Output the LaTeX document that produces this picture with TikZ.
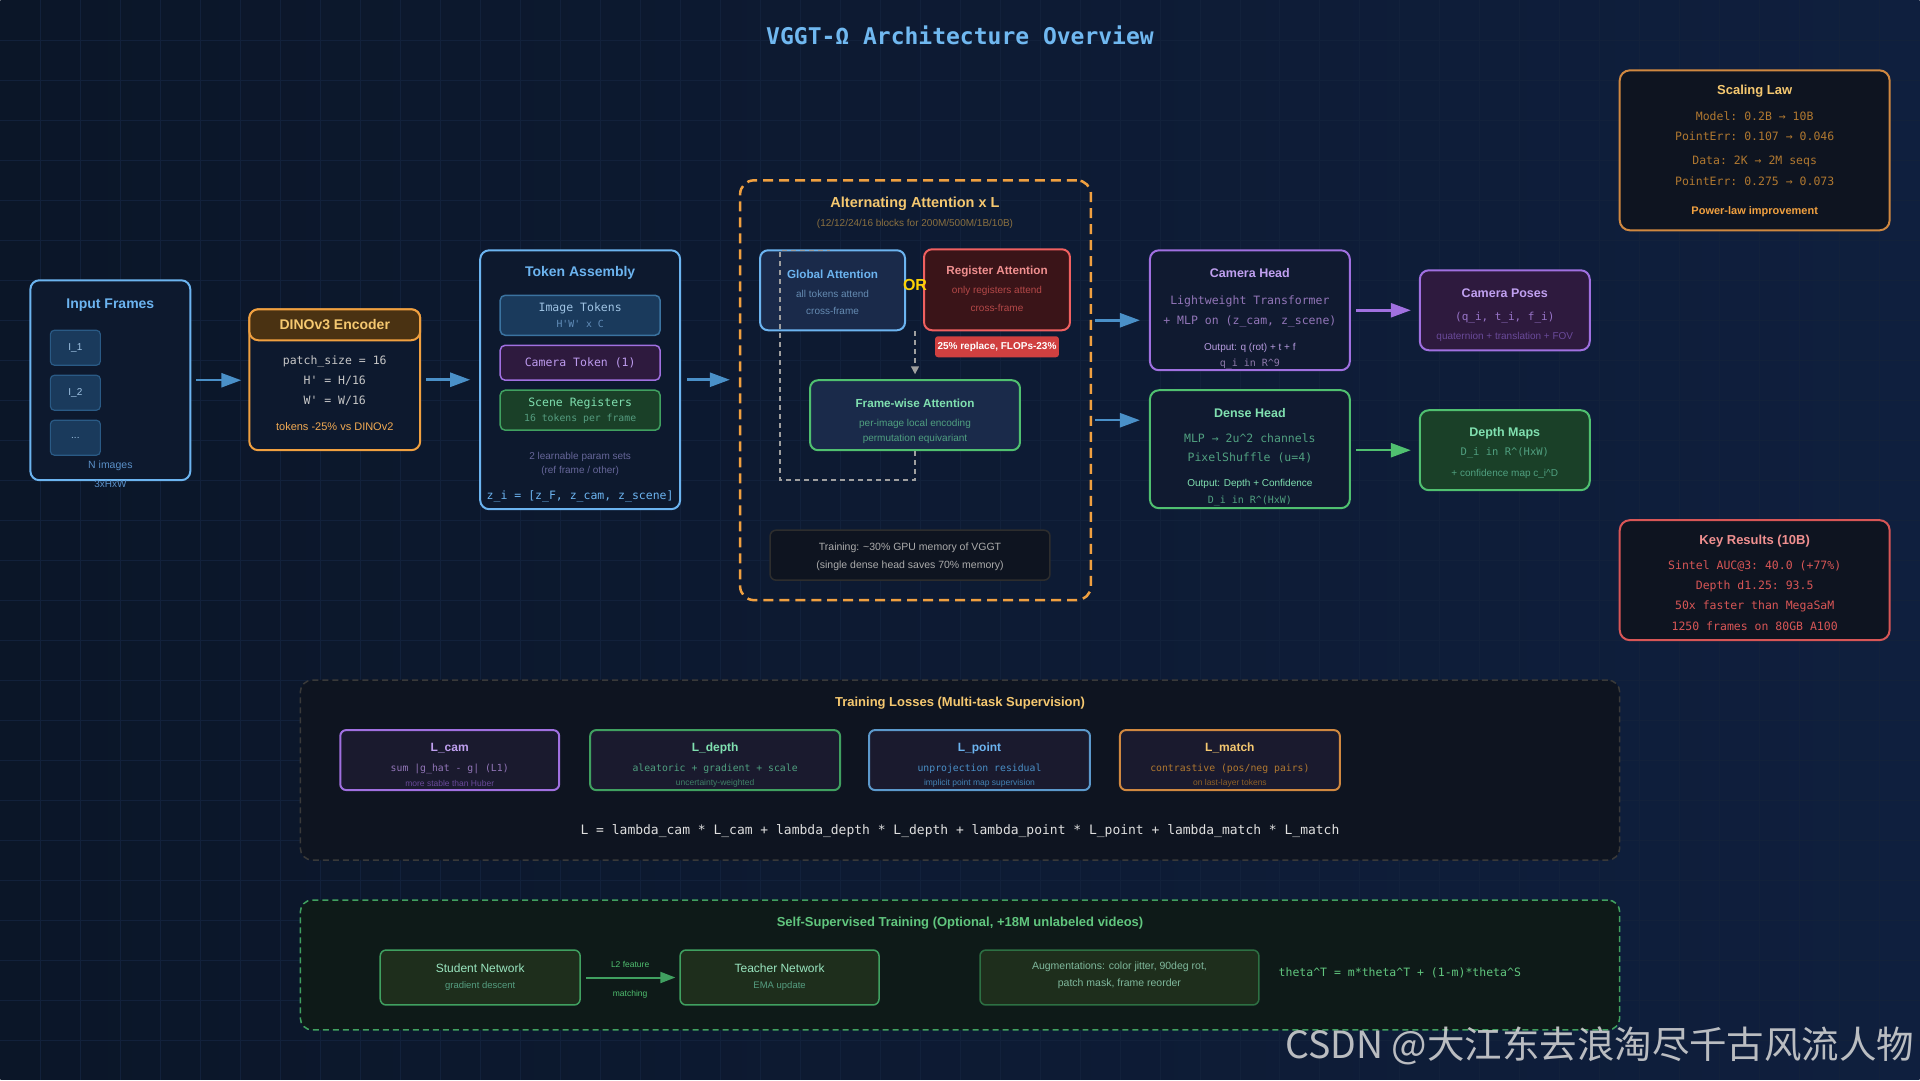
\documentclass[tikz,border=0pt]{standalone}
\usepackage{fontspec}
\setmainfont{Liberation Sans}
\setmonofont{DejaVu Sans Mono}
\newfontfamily\cjkfont{Noto Sans CJK SC}
\usetikzlibrary{arrows.meta,calc}

\newcommand{\fsz}[1]{\fontsize{#1}{#1}\selectfont}
\newcommand{\crt}{\textasciicircum}

\definecolor{bgleft}{HTML}{0B1628}
\definecolor{bgright}{HTML}{0F1F3E}
\definecolor{gridln}{HTML}{12213B}
\definecolor{boxbg}{HTML}{0D192E}
\definecolor{headbg}{HTML}{101A30}
\definecolor{panelbg}{HTML}{0E1420}
\definecolor{titleb}{HTML}{70B8F0}
\definecolor{skyb}{HTML}{6CB4F0}
\definecolor{arrb}{HTML}{4A90C8}
\definecolor{frmfill}{HTML}{1A3A5C}
\definecolor{frmedge}{HTML}{2A5A85}
\definecolor{frmtxt}{HTML}{A0C4E4}
\definecolor{nimg}{HTML}{5A90C8}
\definecolor{orng}{HTML}{F0A040}
\definecolor{gold}{HTML}{F5C870}
\definecolor{brownhd}{HTML}{4A3212}
\definecolor{dimgold}{HTML}{8A7040}
\definecolor{copper}{HTML}{D08840}
\definecolor{rust}{HTML}{B07830}
\definecolor{purp}{HTML}{A070E0}
\definecolor{lilac}{HTML}{C0A0F0}
\definecolor{plum}{HTML}{2E1A3E}
\definecolor{dimplum}{HTML}{6A4A9A}
\definecolor{grn}{HTML}{50C070}
\definecolor{mint}{HTML}{80E0B0}
\definecolor{sage}{HTML}{50A080}
\definecolor{forest}{HTML}{1A4028}
\definecolor{redb}{HTML}{F06060}
\definecolor{pinkt}{HTML}{F09090}
\definecolor{maroon}{HTML}{3A1418}
\definecolor{badgered}{HTML}{D04040}
\definecolor{attnbg}{HTML}{1A2A4A}
\definecolor{lossbg}{HTML}{1A1A2E}
\definecolor{sslbg}{HTML}{0E1A18}
\definecolor{sslbox}{HTML}{1E2E1C}
\definecolor{sslgrn}{HTML}{40A060}

\begin{document}
\begin{tikzpicture}[
  x=1pt, y=-1pt,
  font=\fsz{11},
  box/.style={draw, line width=2pt, rounded corners=9pt, inner sep=0pt},
  sub/.style={draw, line width=1.5pt, rounded corners=5pt, inner sep=0pt},
  txt/.style={inner sep=0pt},
  hd/.style={txt, font=\bfseries\fsz{#1}},
  mono/.style={txt, font=\ttfamily\fsz{#1}},
  sans/.style={txt, font=\fsz{#1}},
  arr/.style={-{Triangle[length=20pt,width=14pt]}, line width=2.5pt},
  gdash/.style={draw=gray!75, line width=1.5pt, dash pattern=on 5pt off 4pt},
]
% ---- background + grid ----
\shade[left color=bgleft, right color=bgright] (0,0) rectangle (1920,1080);
\foreach \gx in {40,80,...,1880} \draw[gridln, line width=0.8pt] (\gx,0) -- (\gx,1080);
\foreach \gy in {40,80,...,1040} \draw[gridln, line width=0.8pt] (0,\gy) -- (1920,\gy);
\useasboundingbox (0,0) rectangle (1920,1080);

\node[txt, font=\ttfamily\bfseries\fsz{23}, text=titleb] (title) at (960,35) {VGGT-Ω Architecture Overview};

% ---- input frames ----
\node[box, draw=skyb, fill=boxbg, minimum width=160pt, minimum height=200pt] (inframes) at (110,380) {};
\node[hd=14, text=skyb] (inT) at (110,305) {Input Frames};
\node[sub, line width=1.2pt, rounded corners=4pt, draw=frmedge, fill=frmfill, minimum width=50pt, minimum height=35pt, text=frmtxt, font=\fsz{10}] (img1) at (75,347.5) {I\_1};
\node[sub, line width=1.2pt, rounded corners=4pt, draw=frmedge, fill=frmfill, minimum width=50pt, minimum height=35pt, text=frmtxt, font=\fsz{10}] (img2) at (75,392.5) {I\_2};
\node[sub, line width=1.2pt, rounded corners=4pt, draw=frmedge, fill=frmfill, minimum width=50pt, minimum height=35pt, text=frmtxt, font=\fsz{10}] (img3) at (75,437.5) {...};
\node[sans=10.5, text=nimg] (nimgs) at (110,466) {N images};
\node[sans=10, text=nimg] (shape) at (110,484) {3xHxW};

% ---- DINOv3 encoder ----
\node[box, draw=orng, fill=boxbg, minimum width=171pt, minimum height=141pt] (dino) at (334.5,379.5) {};
\node[box, draw=orng, fill=brownhd, minimum width=171pt, minimum height=31pt] (dinohd) at (334.5,324.5) {};
\node[hd=14, text=gold] (dinoT) at (334.5,324.5) {DINOv3 Encoder};
\node[mono=11.5, text=gray!45] (patch) at (334.5,361) {patch\_size = 16};
\node[mono=11.5, text=gray!45] (hdim) at (334.5,381) {H' = H/16};
\node[mono=11.5, text=gray!45] (wdim) at (334.5,401) {W' = W/16};
\node[sans=11, text=orng!90!white] (tokcut) at (334.5,426) {tokens -25\% vs DINOv2};

% ---- token assembly ----
\node[box, draw=skyb, fill=boxbg, minimum width=200pt, minimum height=259pt] (tokasm) at (580,379.5) {};
\node[hd=14, text=skyb] (tokT) at (580,273) {Token Assembly};
\node[sub, draw=arrb!80!black, fill=frmfill, minimum width=160pt, minimum height=40pt] (imgtok) at (580,315) {};
\node[mono=11.5, text=frmtxt] (imgtokA) at (580,308) {Image Tokens};
\node[mono=9.8, text=nimg!80!gray] (imgtokB) at (580,324) {H'W' x C};
\node[sub, draw=purp, fill=plum, minimum width=160pt, minimum height=35pt] (camtok) at (580,362.5) {};
\node[mono=11.5, text=lilac!90!purp] (camtokA) at (580,363) {Camera Token (1)};
\node[sub, draw=sslgrn, fill=forest, minimum width=160pt, minimum height=40pt] (scnreg) at (580,410) {};
\node[mono=11.5, text=mint] (scnregA) at (580,403) {Scene Registers};
\node[mono=9.8, text=sage!90!gray] (scnregB) at (580,419) {16 tokens per frame};
\node[sans=10, text=gray!80!blue] (params) at (580,457) {2 learnable param sets};
\node[sans=10, text=gray!80!blue] (paramsB) at (580,471) {(ref frame / other)};
\node[mono=11.5, text=skyb] (zi) at (580,496) {z\_i = [z\_F, z\_cam, z\_scene]};

% ---- alternating attention block ----
\node[draw=orng, line width=2.5pt, dash pattern=on 10pt off 6pt, rounded corners=14pt, minimum width=351pt, minimum height=420pt, inner sep=0pt] (altatt) at (915.5,390) {};
\node[hd=14.5, text=gold] (altT) at (915,203) {Alternating Attention x L};
\node[sans=10, text=dimgold] (altS) at (915,224) {(12/12/24/16 blocks for 200M/500M/1B/10B)};

\draw[arr, arrb, shorten <=5pt, shorten >=7pt] (inframes.east) -- (inframes.east -| dino.west);
\draw[arr, arrb, shorten <=5pt, shorten >=9pt] (dino.east) -- (dino.east -| tokasm.west);
\draw[arr, arrb, shorten <=6pt, shorten >=9pt] (tokasm.east) -- (tokasm.east -| altatt.west);

\node[box, draw=skyb, fill=attnbg, rounded corners=8pt, minimum width=145pt, minimum height=80pt] (glob) at (832.5,290) {};
\node[hd=11.7, text=skyb] (globT) at (832.5,274) {Global Attention};
\node[sans=10, text=nimg!70!gray] (globA) at (832.5,294) {all tokens attend};
\node[sans=10, text=nimg!70!gray] (globB) at (832.5,311) {cross-frame};

\node[box, draw=redb, fill=maroon, rounded corners=8pt, minimum width=146pt, minimum height=81pt] (regatt) at (997,289.5) {};
\node[hd=11.7, text=pinkt] (regT) at (997,271) {Register Attention};
\node[sans=10, text=redb!75!black] (regA) at (997,291) {only registers attend};
\node[sans=10, text=redb!75!black] (regB) at (997,308) {cross-frame};
\node[hd=16, text=yellow!70!orange] (orsep) at (915,285) {OR};
\node[fill=badgered, rounded corners=3pt, minimum width=124pt, minimum height=21pt, inner sep=0pt, text=white, font=\bfseries\fsz{10}] (badge) at (997,346.5) {25\% replace, FLOPs-23\%};

\node[box, draw=grn, fill=attnbg, rounded corners=8pt, minimum width=210pt, minimum height=70pt] (frame) at (915,415) {};
\node[hd=11.7, text=mint] (frameT) at (915,403) {Frame-wise Attention};
\node[sans=10, text=sage] (frameA) at (915,424) {per-image local encoding};
\node[sans=10, text=sage] (frameB) at (915,439) {permutation equivariant};

\draw[gdash, -{Triangle[length=8pt,width=8pt]}, shorten >=5pt] (frame.north |- glob.south) -- (frame.north);
\coordinate (loopA) at (780,480);
\coordinate (loopB) at (830,250);
\draw[gdash] (frame.south) |- (loopA) |- (loopB);

\node[sub, draw=gray!35!black, fill=panelbg, rounded corners=6pt, minimum width=280pt, minimum height=50pt] (trnote) at (910,555) {};
\node[sans=10.5, text=gray!65] (trnoteA) at (910,548) {Training: \textasciitilde30\% GPU memory of VGGT};
\node[sans=10.5, text=gray!65] (trnoteB) at (910,566) {(single dense head saves 70\% memory)};

% ---- heads ----
\node[box, draw=purp, fill=headbg, minimum width=200pt, minimum height=120pt] (camhead) at (1250,310) {};
\node[hd=12.5, text=lilac] (camT) at (1250,273) {Camera Head};
\node[mono=11.5, text=purp!60!gray] (camA) at (1250,301) {Lightweight Transformer};
\node[mono=11.5, text=purp!60!gray] (camB) at (1250,321) {+ MLP on (z\_cam, z\_scene)};
\node[sans=10, text=lilac!85!gray] (camC) at (1250,348) {Output: q (rot) + t + f};
\node[mono=10, text=purp!45!gray] (camD) at (1250,364) {q\_i in R\crt9};

\node[box, draw=grn, fill=headbg, minimum width=200pt, minimum height=118pt] (densehead) at (1250,449) {};
\node[hd=12.5, text=mint] (denT) at (1250,413) {Dense Head};
\node[mono=11.5, text=sage] (denA) at (1250,438) {MLP → 2u\crt2 channels};
\node[mono=11.5, text=sage] (denB) at (1250,458) {PixelShuffle (u=4)};
\node[sans=10, text=mint] (denC) at (1250,484) {Output: Depth + Confidence};
\node[mono=10, text=sage] (denD) at (1250,501) {D\_i in R\crt(HxW)};

\draw[arr, arrb, shorten <=3pt, shorten >=9pt] ([yshift=70pt]altatt.east) -- ([yshift=70pt]altatt.east -| camhead.west);
\draw[arr, arrb, shorten <=3pt, shorten >=9pt] ([yshift=-30pt]altatt.east) -- ([yshift=-30pt]altatt.east -| densehead.west);

% ---- outputs ----
\node[box, draw=purp, fill=plum, minimum width=170pt, minimum height=80pt] (campose) at (1505,310) {};
\node[hd=12.5, text=lilac] (poseT) at (1505,293) {Camera Poses};
\node[mono=11, text=purp!75!gray] (poseA) at (1505,317) {(q\_i, t\_i, f\_i)};
\node[sans=10, text=dimplum] (poseB) at (1505,337) {quaternion + translation + FOV};

\node[box, draw=grn, fill=forest, minimum width=170pt, minimum height=80pt] (depthmap) at (1505,450) {};
\node[hd=12.5, text=mint] (depT) at (1505,433) {Depth Maps};
\node[mono=10.5, text=sage] (depA) at (1505,453) {D\_i in R\crt(HxW)};
\node[sans=10, text=sage] (depB) at (1505,474) {+ confidence map c\_i\crt D};

\draw[arr, purp, shorten <=5pt, shorten >=8pt] (camhead.east) -- (campose.west);
\draw[arr, grn, shorten <=5pt, shorten >=8pt] (densehead.east |- depthmap.west) -- (depthmap.west);

% ---- side panels ----
\node[box, draw=copper, fill=panelbg, rounded corners=10pt, minimum width=270pt, minimum height=160pt] (scalelaw) at (1755,150) {};
\node[hd=13, text=gold] (scaleT) at (1755,91) {Scaling Law};
\node[mono=11.5, text=rust] (scaleA) at (1755,116) {Model: 0.2B → 10B};
\node[mono=11.5, text=rust] (scaleB) at (1755,136) {PointErr: 0.107 → 0.046};
\node[mono=11.5, text=rust] (scaleC) at (1755,161) {Data: 2K → 2M seqs};
\node[mono=11.5, text=rust] (scaleD) at (1755,181) {PointErr: 0.275 → 0.073};
\node[hd=11, text=orng] (scaleE) at (1755,211) {Power-law improvement};

\node[box, draw=redb!90!black, fill=panelbg, rounded corners=10pt, minimum width=270pt, minimum height=120pt] (keyres) at (1755,580) {};
\node[hd=13, text=pinkt] (keyT) at (1755,541) {Key Results (10B)};
\node[mono=11.5, text=redb!90!black] (keyA) at (1755,566) {Sintel AUC@3: 40.0 (+77\%)};
\node[mono=11.5, text=redb!90!black] (keyB) at (1755,586) {Depth d1.25: 93.5};
\node[mono=11.5, text=redb!90!black] (keyC) at (1755,606) {50x faster than MegaSaM};
\node[mono=11.5, text=redb!90!black] (keyD) at (1755,626) {1250 frames on 80GB A100};

% ---- training losses ----
\node[draw=gray!45!black, fill=panelbg, line width=1.5pt, dash pattern=on 6pt off 4pt, rounded corners=12pt, minimum width=1320pt, minimum height=180pt, inner sep=0pt] (losspanel) at (960,770) {};
\node[hd=13, text=gold] (lossT) at (960,703) {Training Losses (Multi-task Supervision)};

\node[box, draw=purp, fill=lossbg, rounded corners=6pt, minimum width=219pt, minimum height=60pt] (lcam) at (449.5,760) {};
\node[hd=12, text=lilac] (lcamT) at (449.5,748) {L\_cam};
\node[mono=9.8, text=purp!60!gray] (lcamA) at (449.5,769) {sum |g\_hat - g| (L1)};
\node[sans=8.5, text=dimplum] (lcamB) at (449.5,783) {more stable than Huber};

\node[box, draw=sslgrn, fill=lossbg, rounded corners=6pt, minimum width=250pt, minimum height=60pt] (ldepth) at (715,760) {};
\node[hd=12, text=mint] (ldepT) at (715,748) {L\_depth};
\node[mono=9.8, text=sage] (ldepA) at (715,769) {aleatoric + gradient + scale};
\node[sans=8.5, text=sage!80!black] (ldepB) at (715,783) {uncertainty-weighted};

\node[box, draw=skyb!85!black, fill=lossbg, rounded corners=6pt, minimum width=221pt, minimum height=60pt] (lpoint) at (979.5,760) {};
\node[hd=12, text=skyb] (lptT) at (979.5,748) {L\_point};
\node[mono=9.8, text=arrb] (lptA) at (979.5,769) {unprojection residual};
\node[sans=8.5, text=arrb!90!black] (lptB) at (979.5,783) {implicit point map supervision};

\node[box, draw=copper, fill=lossbg, rounded corners=6pt, minimum width=220pt, minimum height=60pt] (lmatch) at (1230,760) {};
\node[hd=12, text=gold] (lmT) at (1230,748) {L\_match};
\node[mono=9.8, text=rust] (lmA) at (1230,769) {contrastive (pos/neg pairs)};
\node[sans=8.5, text=rust!80!black] (lmB) at (1230,783) {on last-layer tokens};

\node[mono=13, text=gray!25] (lossEq) at (960,831) {L = lambda\_cam * L\_cam + lambda\_depth * L\_depth + lambda\_point * L\_point + lambda\_match * L\_match};

% ---- self-supervised training ----
\node[draw=sslgrn, fill=sslbg, line width=1.5pt, dash pattern=on 6pt off 4pt, rounded corners=12pt, minimum width=1320pt, minimum height=130pt, inner sep=0pt] (ssl) at (960,965) {};
\node[hd=13, text=grn!90!white] (sslT) at (960,923) {Self-Supervised Training (Optional, +18M unlabeled videos)};

\node[sub, draw=sslgrn, fill=sslbox, rounded corners=6pt, minimum width=200pt, minimum height=55pt] (student) at (480,977.5) {};
\node[sans=12, text=mint!80!white] (stuT) at (480,968) {Student Network};
\node[sans=9.5, text=sage!90!gray] (stuA) at (480,986) {gradient descent};

\node[sub, draw=sslgrn, fill=sslbox, rounded corners=6pt, minimum width=199pt, minimum height=55pt] (teacher) at (779.5,977.5) {};
\node[sans=12, text=mint!80!white] (teaT) at (779.5,968) {Teacher Network};
\node[sans=9.5, text=sage!90!gray] (teaA) at (779.5,986) {EMA update};

\draw[-{Triangle[length=15pt,width=11pt]}, line width=2pt, sslgrn, shorten <=5pt, shorten >=4pt] (student.east) -- (teacher.west)
  node[midway, txt, yshift=13pt, font=\fsz{8.5}, text=grn] (l2lbl) {L2 feature}
  node[midway, txt, yshift=-17pt, font=\fsz{8.5}, text=grn] (matchlbl) {matching};

\node[sub, draw=sslgrn!70!black, fill=sslbox, rounded corners=6pt, minimum width=279pt, minimum height=55pt] (augbox) at (1119.5,977.5) {};
\node[sans=10.5, text=mint!60!gray] (augA) at (1119.5,967) {Augmentations: color jitter, 90deg rot,};
\node[sans=10.5, text=mint!60!gray] (augB) at (1119.5,984) {patch mask, frame reorder};

\node[mono=11.5, text=grn!90!white] (emaeq) at (1400,973) {theta\crt T = m*theta\crt T + (1-m)*theta\crt S};

% ---- watermark ----
\node[txt, font=\cjkfont\fsz{37.5}, text=gray!30, opacity=0.85] (wmark) at (1600,1046) {CSDN @大江东去浪淘尽千古风流人物};
\end{tikzpicture}
\end{document}
